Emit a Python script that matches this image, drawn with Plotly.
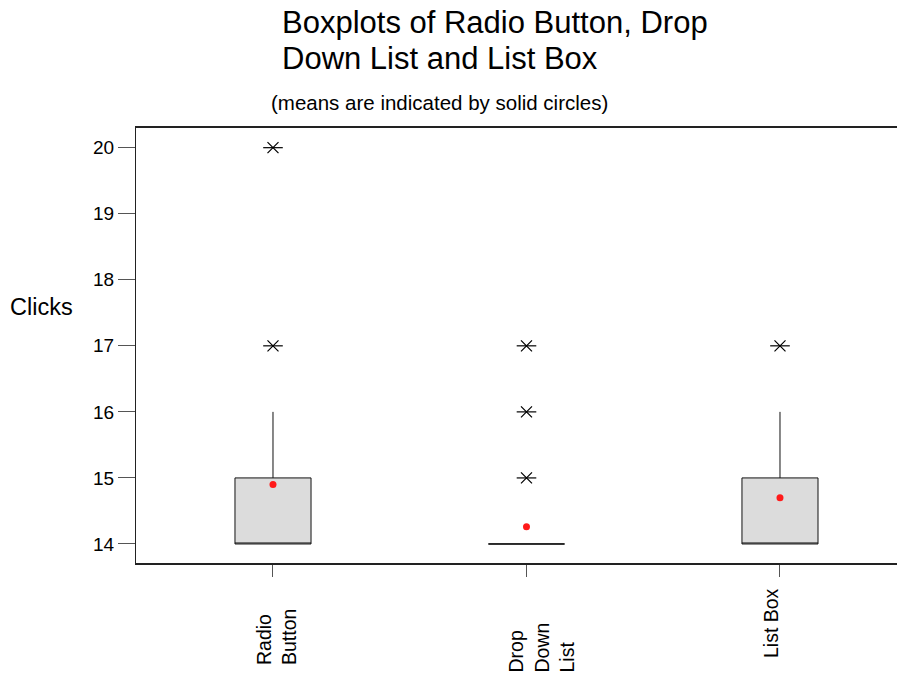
import plotly.graph_objects as go

categories = ["Radio<br>Button", "Drop<br>Down<br>List", "List Box"]
xpos = [0, 1, 2]
q1 = [14, 14, 14]
median = [14, 14, 14]
q3 = [15, 14, 15]
lower_fence = [14, 14, 14]
upper_fence = [16, 14, 16]
means = [14.9, 14.26, 14.7]
outlier_x = [0, 0, 1, 1, 1, 2]
outlier_y = [17, 20, 15, 16, 17, 17]
y_ticks = [14, 15, 16, 17, 18, 19, 20]
title_lines = ["Boxplots of Radio Button, Drop", "Down List and List Box"]

FONT = "Liberation Sans, Arial, sans-serif"

# small pixel nudges for the rotated category labels (layout styling)
label_xshift = [3, 15, -9]
label_yshift = [-3, -10, 4]

fig = go.Figure()
fig.add_trace(go.Box(
    x=xpos, q1=q1, median=median, q3=q3,
    lowerfence=lower_fence, upperfence=upper_fence,
    width=0.3, fillcolor="#DCDCDC",
    line=dict(color="#111111", width=1),
    whiskerwidth=0, boxpoints=False, showlegend=False, hoverinfo="skip",
))
fig.add_trace(go.Scatter(
    x=outlier_x, y=outlier_y, mode="markers",
    marker=dict(symbol="x-thin-open", size=11, color="black",
                line=dict(color="black", width=1.2)),
    showlegend=False,
))
fig.add_trace(go.Scatter(
    x=outlier_x, y=outlier_y, mode="markers",
    marker=dict(symbol="line-ew-open", size=14, color="black",
                line=dict(color="black", width=1.2)),
    showlegend=False,
))
fig.add_trace(go.Scatter(
    x=xpos, y=means, mode="markers",
    marker=dict(symbol="circle", size=7, color="#ff1a1a"),
    showlegend=False,
))

annotations = [
    dict(text=title_lines[0], x=0.185, y=1.2414, xref="paper", yref="paper",
         showarrow=False, xanchor="left", yanchor="middle", font=dict(size=31)),
    dict(text=title_lines[1], x=0.185, y=1.1609, xref="paper", yref="paper",
         showarrow=False, xanchor="left", yanchor="middle", font=dict(size=31)),
    dict(text="(means are indicated by solid circles)", x=0.3912,
         y=1 + 25 / 435, xref="paper", yref="paper", showarrow=False,
         xanchor="center", yanchor="middle", font=dict(size=20.5)),
    dict(text="Clicks", x=-0.121, y=0.5885,
         xref="paper", yref="paper", showarrow=False,
         xanchor="center", yanchor="middle", font=dict(size=23.5)),
]
for xv, lab, dx, dy in zip(xpos, categories, label_xshift, label_yshift):
    annotations.append(dict(
        text=lab, x=xv, y=-0.2322, xref="x", yref="paper", showarrow=False,
        textangle=-90, xanchor="center", yanchor="bottom", align="left",
        xshift=dx, yshift=dy, font=dict(size=19.5),
    ))

fig.update_layout(
    width=905, height=675,
    margin=dict(l=128, r=0, t=120, b=120),
    paper_bgcolor="white", plot_bgcolor="white",
    font=dict(family=FONT, color="black"),
    annotations=annotations,
)
fig.update_xaxes(
    range=[-0.5404, 2.5247], tickvals=xpos, showticklabels=False,
    showline=True, linecolor="#222", linewidth=1.5, mirror=True,
    ticks="outside", ticklen=12, tickcolor="#555", tickwidth=1,
    showgrid=False, zeroline=False,
)
fig.update_yaxes(
    range=[13.712, 20.298], tickvals=y_ticks,
    tickfont=dict(size=19),
    showline=True, linecolor="#222", linewidth=1, mirror=False,
    ticks="outside", ticklen=17, tickcolor="#555", tickwidth=1,
    showgrid=False, zeroline=False,
)

fig.write_html("out.html")
